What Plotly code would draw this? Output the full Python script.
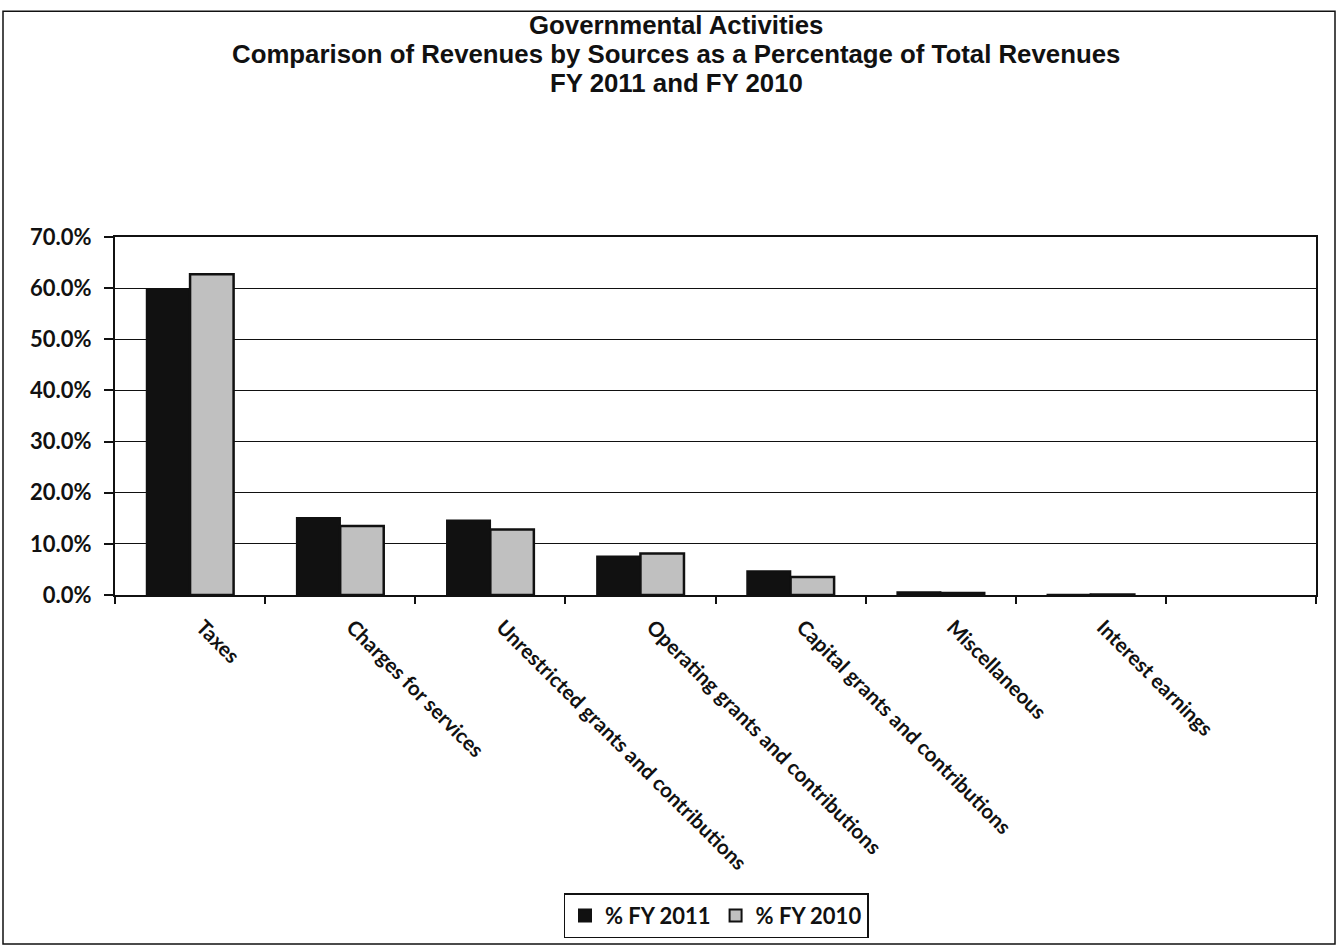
import plotly.graph_objects as go

# Revenue sources (x-axis categories); the chart keeps one trailing empty slot
categories = [
    "Taxes",
    "Charges for services",
    "Unrestricted grants and contributions",
    "Operating grants and contributions",
    "Capital grants and contributions",
    "Miscellaneous",
    "Interest earnings",
    " ",
]

# Share of total revenues, in percent
pct_fy2011 = [59.8, 15.1, 14.6, 7.6, 4.7, 0.6, 0.1, None]
pct_fy2010 = [62.7, 13.5, 12.8, 8.1, 3.5, 0.4, 0.1, None]

series_names = ["% FY 2011", "% FY 2010"]

title_lines = [
    "Governmental Activities",
    "Comparison of Revenues by Sources as a Percentage of Total Revenues",
    "FY 2011 and FY 2010",
]

y_ticks = [0, 10, 20, 30, 40, 50, 60, 70]
y_tick_text = ["0.0%", "10.0%", "20.0%", "30.0%", "40.0%", "50.0%", "60.0%", "70.0%"]

W, H = 1338, 951
L, R, T, B = 115, 22, 237, 354
plot_w = W - L - R
plot_h = H - T - B

label_font = dict(family="Lato", size=22, color="#111111", weight="bold")

fig = go.Figure()
fig.add_trace(go.Bar(
    name=series_names[0], x=categories, y=pct_fy2011,
    marker=dict(color="#111111", line=dict(color="#111111", width=1.5)),
))
fig.add_trace(go.Bar(
    name=series_names[1], x=categories, y=pct_fy2010,
    marker=dict(color="#c0c0c0", line=dict(color="#111111", width=2.5)),
))


def px_x(v):
    return (v - L) / plot_w


def px_y(v):
    return (H - B - v) / plot_h


# Outer chart frame (paper coordinates extend beyond the plot area)
fig.add_shape(type="rect", xref="paper", yref="paper",
              x0=px_x(3), x1=px_x(1335), y0=px_y(948), y1=px_y(10),
              line=dict(color="#111111", width=1.5), fillcolor="rgba(0,0,0,0)",
              layer="below")

# Three-line heading
for txt, ypix in zip(title_lines, [24, 53, 82]):
    fig.add_annotation(text=f"<b>{txt}</b>", xref="paper", yref="paper",
                       x=px_x(676), y=px_y(ypix), xanchor="center", yanchor="middle",
                       showarrow=False,
                       font=dict(family="Liberation Sans, Arial", size=25.8, color="#111111"))

fig.update_layout(
    width=W, height=H,
    margin=dict(l=L, r=R, t=T, b=B, pad=0),
    paper_bgcolor="white", plot_bgcolor="white",
    barmode="group", bargap=0.42, bargroupgap=0,
    showlegend=True,
    legend=dict(orientation="h", x=px_x(716), xanchor="center",
                y=px_y(942), yanchor="bottom",
                bordercolor="#111111", borderwidth=1.5, bgcolor="white",
                font=label_font, itemwidth=30, tracegroupgap=0,
                itemsizing="constant"),
    font=dict(family="Lato", color="#111111"),
)

fig.update_yaxes(range=[0, 70], tickvals=y_ticks, ticktext=y_tick_text,
                 showgrid=True, gridcolor="#111111", gridwidth=1,
                 showline=True, linecolor="#111111", linewidth=2, mirror=True,
                 ticks="outside", ticklen=9, tickcolor="#111111", tickwidth=1.5,
                 ticklabelstandoff=8,
                 tickfont=label_font, zeroline=False)
fig.update_xaxes(tickangle=45, tickson="boundaries",
                 showline=True, linecolor="#111111", linewidth=2, mirror=True,
                 ticks="outside", ticklen=7, tickcolor="#111111", tickwidth=1.5,
                 ticklabelstandoff=10, ticklabelshift=12,
                 tickfont=dict(family="Lato", size=20.6, color="#111111", weight="bold"))

fig.write_html(
    "out.html",
    post_script=(
        "document.documentElement.style.overflow='hidden';"
        "document.body.style.margin='0';"
        "document.body.style.overflow='hidden';"
    ),
)
